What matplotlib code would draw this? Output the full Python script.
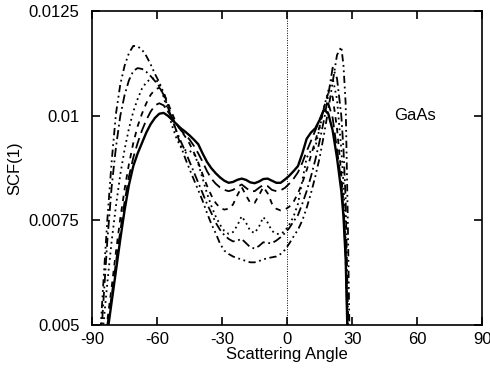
import numpy as np
import matplotlib
matplotlib.use("Agg")
import matplotlib.pyplot as plt

# scattering angle grid (deg)
angle = [-89, -87, -85, -83, -81, -79, -77, -75, -73, -71,
         -69, -67, -65, -63, -61, -59, -57, -55, -53, -51,
         -49, -47, -45, -43, -41, -39, -37, -35, -33, -31,
         -29, -27, -25, -23, -21, -19, -17, -15, -13, -11,
         -9, -7, -5, -3, -1, 1, 3, 5, 7, 9,
         11, 13, 15, 17, 19, 21, 23, 25, 26, 27, 28, 29]

# SCF(1) values, in units of 1e-4
scf_a = [25, 33, 41, 48, 55.5, 63, 70.5, 77.5, 83.5, 88,
         91, 93.5, 96, 98, 99.5, 100.5, 100.7, 100, 99, 98,
         97, 96.2, 95.3, 94.3, 93.2, 91, 89, 87.5, 86.3, 85.3,
         84.5, 84, 84.2, 84.7, 85, 84.7, 84.1, 83.9, 84.3, 84.9,
         85, 84.5, 84, 84, 84.8, 85.7, 86.8, 88, 91, 94.5,
         96, 97, 99, 101.5, 100.5, 96.5, 90, 82, 76, 66, 45, 30]
scf_b = [27, 34, 42, 50, 57, 65, 72.5, 79.5, 85.5, 90,
         93.5, 96.5, 99, 101, 102.5, 103, 102.5, 101, 99.5, 98,
         96.5, 95.5, 94.3, 92.8, 91, 89, 86.8, 85, 83.8, 82.9,
         82.3, 82, 82.3, 83, 83.6, 82.8, 82, 82, 82.8, 83.5,
         83.2, 82.3, 82, 82.2, 82.8, 83.8, 85, 86.5, 88.8, 91.5,
         94, 96.5, 99, 101.5, 103, 99.5, 92, 84, 77.5, 66.5, 46, 30]
scf_c = [25, 33, 42, 51, 59, 67.5, 75.5, 82.5, 88.5, 93.5,
         97.5, 100.5, 103, 105, 106.3, 106.7, 105.5, 103, 100.5, 98,
         96.5, 95, 93.3, 91.2, 88.8, 86, 83.3, 81, 79.2, 78,
         77.6, 77.8, 78.8, 81, 83, 81, 79.2, 79.2, 81, 83,
         81.5, 79, 77.8, 77.4, 77.6, 78.3, 79.5, 81.5, 84, 87,
         90.5, 94, 97.5, 102, 105.5, 104.5, 97, 86, 79, 68, 47, 30]
scf_d = [28, 38, 49, 60, 70, 78.5, 86, 92, 97, 101,
         104, 106.5, 108, 108.8, 109, 107.5, 104.5, 101, 97.5, 94.5,
         92.5, 91.8, 91.6, 91, 88.5, 85, 81.5, 78.5, 76, 74,
         72.5, 71.8, 72.2, 73.8, 76, 74.5, 72.5, 72, 73.5, 75.8,
         74.5, 72.5, 71.8, 71.8, 72.5, 74, 76, 79, 84.5, 90,
         91.7, 92.5, 97, 102, 106, 109, 104, 92, 84, 70, 48, 30]
scf_e = [22, 38, 54, 70, 83, 92.5, 100, 105, 108.5, 110.7,
         111.4, 111.2, 110.5, 109.5, 108.3, 107, 105, 102, 99, 96.3,
         93.8, 91.5, 89, 86.5, 84, 81.5, 79, 76.8, 74.5, 72.8,
         71.5, 70.6, 70, 70.2, 70.6, 69.6, 68.6, 68.3, 68.9, 69.8,
         69.6, 69.6, 70.2, 71, 72, 73.2, 74.8, 76.3, 79, 82,
         85.5, 89.5, 94, 99, 105, 111.5, 109, 100, 92, 80, 55, 35]
scf_f = [15, 41, 58.6, 75, 89, 100.5, 107.5, 112, 115, 116.7,
         116.6, 115.8, 114.3, 112.3, 110, 108, 105.5, 102.5, 99.3, 96,
         92.7, 89.8, 87.2, 84.7, 82.2, 79.7, 76.8, 74.2, 72, 69.5,
         67.8, 67, 66.4, 66, 65.7, 65.3, 65, 65, 65.3, 65.7,
         66, 66.2, 66.4, 67, 68, 69.5, 71.2, 72.8, 75, 78,
         81.5, 85.5, 90, 95.5, 101.5, 108, 114.5, 116.5, 112, 103, 75, 40]

xticks = [-90, -60, -30, 0, 30, 60, 90]
yticks = [0.005, 0.0075, 0.01, 0.0125]
ytick_labels = ["0.005", "0.0075", "0.01", "0.0125"]

plt.rcParams['font.family'] = ['Liberation Sans', 'DejaVu Sans']
plt.rcParams['axes.unicode_minus'] = False

fig = plt.figure(figsize=(4.9, 3.72), dpi=100)
ax = fig.add_axes([0.188, 0.126, 0.796, 0.844])

styles = [
    (scf_a, '-', 1.7),
    (scf_b, (0, (6, 3)), 1.3),
    (scf_c, (0, (3, 3)), 1.3),
    (scf_d, (0, (1, 2)), 1.3),
    (scf_e, (0, (5, 2, 1, 2)), 1.3),
    (scf_f, (0, (4, 2, 1, 2, 1, 2)), 1.3),
]
x = np.array(angle)
for vals, ls, lw in styles:
    ax.plot(x, np.array(vals) * 1e-4, color='black', linestyle=ls, linewidth=lw)

ax.axvline(0, color='black', linestyle=(0, (1, 1.5)), linewidth=0.7)

ax.text(49.5, 0.01, "GaAs", fontsize=12, va='center', ha='left')

ax.set_xlim(-90, 90)
ax.set_ylim(0.005, 0.0125)
ax.set_xticks(xticks)
ax.set_yticks(yticks)
ax.set_yticklabels(ytick_labels)
ax.tick_params(direction='in', top=True, right=True, length=6, width=1.2,
               labelsize=12)
ax.tick_params(axis='y', pad=9)
ax.tick_params(axis='x', pad=5)
for s in ax.spines.values():
    s.set_linewidth(1.2)

ax.set_xlabel("Scattering Angle", fontsize=12, labelpad=0)
ax.set_ylabel("SCF(1)", fontsize=12, labelpad=5)

fig.savefig("out.png", dpi=100)
